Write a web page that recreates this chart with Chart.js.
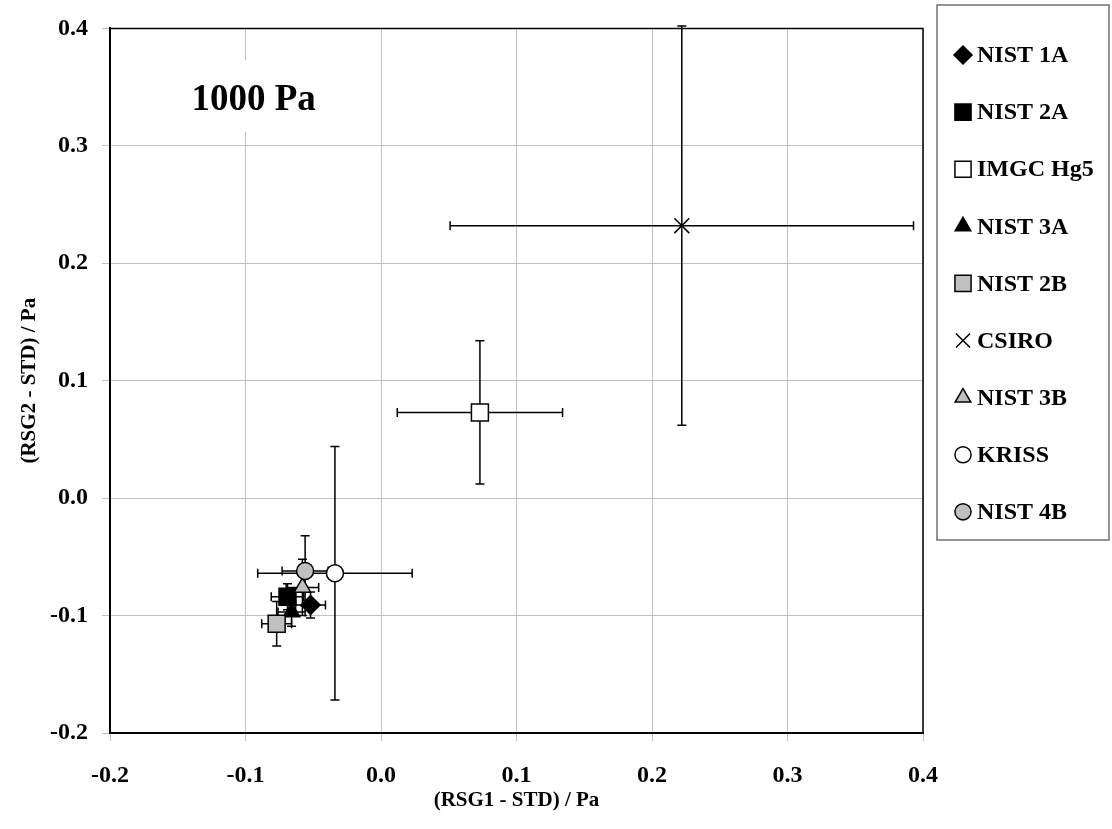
<!DOCTYPE html>
<html>
<head>
<meta charset="utf-8">
<script src="https://cdn.jsdelivr.net/npm/chart.js@4.4.0/dist/chart.umd.min.js"></script>
<style>
  html, body { margin: 0; padding: 0; background: #fff; }
  #wrap { width: 1112px; height: 829px; }
</style>
</head>
<body>
<div id="wrap"><canvas id="chart" width="1112" height="829"></canvas></div>
<script>
// deviations at 1000 Pa, RSG1 vs RSG2, with expanded uncertainties
const seriesNames = ['NIST 1A', 'NIST 2A', 'IMGC Hg5', 'NIST 3A', 'NIST 2B', 'CSIRO', 'NIST 3B', 'KRISS', 'NIST 4B'];
const rsg1    = [-0.052, -0.069, 0.073, -0.066, -0.077, 0.222, -0.058, -0.034, -0.056];
const rsg2    = [-0.091, -0.084, 0.073, -0.097, -0.107, 0.232, -0.076, -0.064, -0.062];
const rsg1Err = [0.011, 0.012, 0.061, 0.010, 0.011, 0.171, 0.012, 0.057, 0.017];
const rsg2Err = [0.011, 0.011, 0.061, 0.012, 0.019, 0.170, 0.024, 0.108, 0.030];
const axisTicks = [-0.2, -0.1, 0.0, 0.1, 0.2, 0.3, 0.4];

const markers = [
  { style: 'rectRot',  r: 9.5,  fill: '#000000' },
  { style: 'rect',     r: 12,   fill: '#000000' },
  { style: 'rect',     r: 12,   fill: '#ffffff' },
  { style: 'triangle', r: 9.5,  fill: '#000000' },
  { style: 'rect',     r: 12,   fill: '#c0c0c0' },
  { style: 'crossRot', r: 10.5, fill: '#000000' },
  { style: 'triangle', r: 9.5,  fill: '#c0c0c0' },
  { style: 'circle',   r: 8.5,  fill: '#ffffff' },
  { style: 'circle',   r: 8.5,  fill: '#c0c0c0' }
];

const FONT = "'Liberation Serif', 'Times New Roman', serif";

const datasets = seriesNames.map((name, i) => ({
  label: name,
  data: [{ x: rsg1[i], y: rsg2[i], xErr: rsg1Err[i], yErr: rsg2Err[i] }],
  pointStyle: markers[i].style,
  pointRadius: markers[i].r,
  pointHoverRadius: markers[i].r,
  backgroundColor: markers[i].fill,
  borderColor: '#000000',
  borderWidth: 1.5,
  order: seriesNames.length - i
}));

// error bars under the markers, plus the plot frame and the pressure label
const errorBars = {
  id: 'errorBars',
  beforeDatasetsDraw(chart) {
    const { ctx, chartArea: a, scales: { x, y } } = chart;
    ctx.save();

    ctx.strokeStyle = '#000';
    ctx.lineWidth = 1.5;
    ctx.beginPath();
    ctx.moveTo(a.left, a.top);
    ctx.lineTo(a.right, a.top);
    ctx.lineTo(a.right, a.bottom);
    ctx.stroke();

    // "1000 Pa" sits in a white box over the grid
    const lx = x.getPixelForValue(-0.094), ly = y.getPixelForValue(0.339);
    ctx.fillStyle = '#fff';
    ctx.fillRect(lx - 78, ly - 40, 156, 72);
    ctx.fillStyle = '#000';
    ctx.font = 'bold 37px ' + FONT;
    ctx.textAlign = 'center';
    ctx.textBaseline = 'middle';
    ctx.fillText('1000 Pa', lx, ly);

    const cap = 4.5;
    ctx.lineWidth = 1.5;
    chart.data.datasets.forEach(ds => {
      ds.data.forEach(p => {
        const px = x.getPixelForValue(p.x), py = y.getPixelForValue(p.y);
        const x0 = x.getPixelForValue(p.x - p.xErr), x1 = x.getPixelForValue(p.x + p.xErr);
        const y0 = y.getPixelForValue(p.y - p.yErr), y1 = y.getPixelForValue(p.y + p.yErr);
        ctx.beginPath();
        ctx.moveTo(x0, py); ctx.lineTo(x1, py);
        ctx.moveTo(x0, py - cap); ctx.lineTo(x0, py + cap);
        ctx.moveTo(x1, py - cap); ctx.lineTo(x1, py + cap);
        ctx.moveTo(px, y0); ctx.lineTo(px, y1);
        ctx.moveTo(px - cap, y0); ctx.lineTo(px + cap, y0);
        ctx.moveTo(px - cap, y1); ctx.lineTo(px + cap, y1);
        ctx.stroke();
      });
    });
    ctx.restore();
  }
};

// boxed legend on the right, one row per series
const boxLegend = {
  id: 'boxLegend',
  afterDraw(chart, args, opts) {
    const ctx = chart.ctx;
    ctx.save();
    ctx.strokeStyle = '#707070';
    ctx.lineWidth = 1.5;
    ctx.strokeRect(opts.left, opts.top, opts.width, opts.height);
    ctx.font = 'bold 24px ' + FONT;
    ctx.textAlign = 'left';
    ctx.textBaseline = 'middle';
    chart.data.datasets.forEach((ds, i) => {
      const cy = opts.first + i * opts.step;
      ctx.fillStyle = ds.backgroundColor;
      ctx.strokeStyle = ds.borderColor;
      ctx.lineWidth = ds.borderWidth;
      Chart.helpers.drawPoint(ctx, {
        pointStyle: ds.pointStyle, radius: ds.pointRadius * 0.95, borderWidth: ds.borderWidth, rotation: 0
      }, opts.markX, cy);
      ctx.fillStyle = '#000';
      ctx.fillText(ds.label, opts.textX, cy + 1);
    });
    ctx.restore();
  }
};

const tickFont = { family: FONT, weight: 'bold', size: 24 };
const titleFont = { family: FONT, weight: 'bold', size: 21 };

new Chart(document.getElementById('chart'), {
  type: 'scatter',
  data: { datasets },
  plugins: [errorBars, boxLegend],
  options: {
    responsive: false,
    animation: false,
    layout: { padding: { left: 0, right: 189, top: 26, bottom: 0 } },
    plugins: {
      legend: { display: false },
      tooltip: { enabled: false },
      boxLegend: { left: 937, top: 5, width: 172, height: 535, first: 55, step: 57.1, markX: 963, textX: 977 }
    },
    scales: {
      x: {
        type: 'linear', min: -0.2, max: 0.4,
        afterBuildTicks: s => { s.ticks = axisTicks.map(v => ({ value: v })); },
        afterFit: s => { s.height = 96; },
        grid: { color: '#c0c0c0', lineWidth: 1, tickLength: 8 },
        border: { color: '#000', width: 2 },
        ticks: { color: '#000', font: tickFont, padding: 20, maxRotation: 0, autoSkip: false,
                 callback: v => v.toFixed(1) },
        title: { display: true, text: '(RSG1 - STD) / Pa', color: '#000', font: titleFont,
                 padding: { top: 0, bottom: 16 } }
      },
      y: {
        type: 'linear', min: -0.2, max: 0.4,
        afterBuildTicks: s => { s.ticks = axisTicks.map(v => ({ value: v })); },
        afterFit: s => { s.width = 110; },
        grid: { color: '#c0c0c0', lineWidth: 1, tickLength: 8 },
        border: { color: '#000', width: 2 },
        ticks: { color: '#000', font: tickFont, padding: 14, autoSkip: false,
                 callback: v => v.toFixed(1) },
        title: { display: true, text: '(RSG2 - STD) / Pa', color: '#000', font: titleFont,
                 padding: { top: 17, bottom: 0 } }
      }
    }
  }
});
</script>
</body>
</html>
